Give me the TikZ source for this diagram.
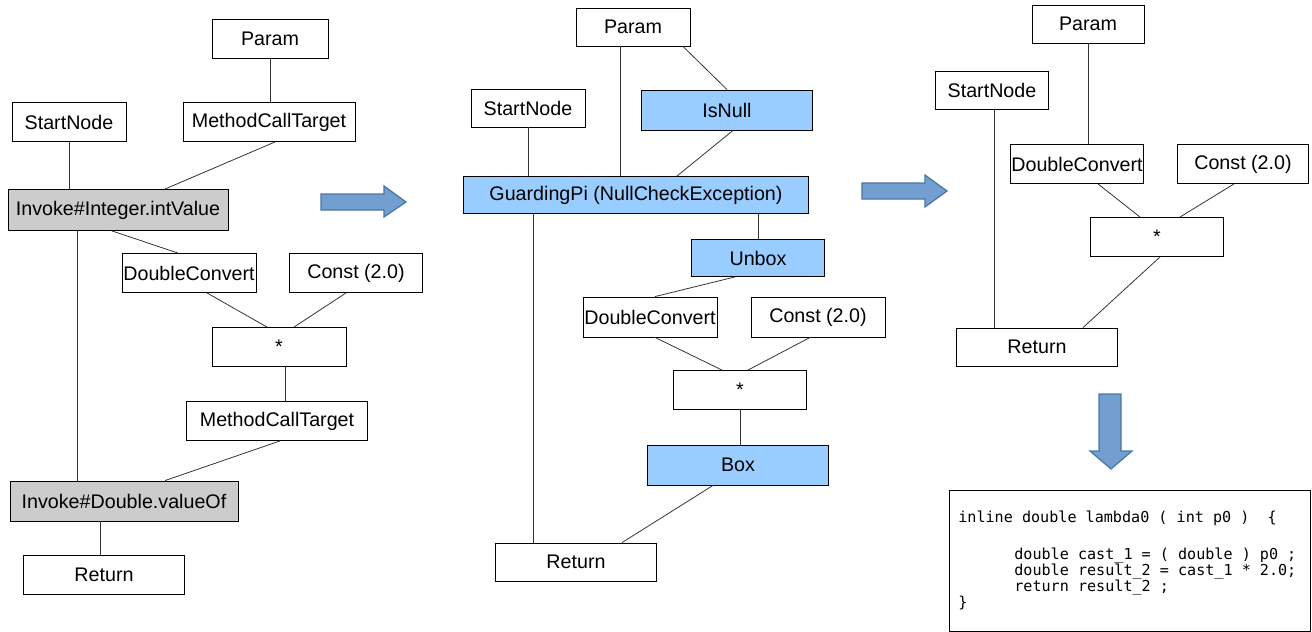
\documentclass[tikz,border=0pt]{standalone}
\usepackage{fontspec}
\setmainfont{Liberation Sans}
\newfontfamily\codefont{DejaVu Sans Mono}
\usetikzlibrary{calc}
\definecolor{nodeblue}{HTML}{99CCFF}
\definecolor{nodegray}{HTML}{CCCCCC}
\definecolor{arrowfill}{HTML}{729FCF}
\definecolor{arrowline}{HTML}{4A76A8}
\begin{document}
\begin{tikzpicture}[x=0.02cm,y=-0.02cm,
    box/.style={draw,fill=white,line width=0.5pt,inner sep=0pt,minimum height=0.78cm,
        font=\fontsize{11.2}{13}\selectfont},
    graybox/.style={box,fill=nodegray},
    bluebox/.style={box,fill=nodeblue},
    edge/.style={line width=0.45pt,black!80},
    bigarrow/.style={fill=arrowfill,draw=arrowline,line width=0.7pt}]
    \useasboundingbox (0,0) rectangle (1312,632);

    % first graph
    \node[box,minimum width=2.32cm] (param1) at (270,39) {Param};
    \node[box,minimum width=3.44cm] (mct1) at (269,122) {MethodCallTarget};
    \node[box,minimum width=2.28cm] (start1) at (69,122) {StartNode};
    \node[graybox,minimum width=4.4cm,minimum height=0.82cm] (inv1) at (118,210) {Invoke\#Integer.intValue};
    \node[box,minimum width=2.68cm] (dc1) at (189,273) {DoubleConvert};
    \node[box,minimum width=2.66cm] (const1) at (356,273) {Const (2.0)};
    \node[box,minimum width=2.68cm] (star1) at (279,347) {*};
    \node[box,minimum width=3.62cm] (mct2) at (277,421) {MethodCallTarget};
    \node[graybox,minimum width=4.56cm,minimum height=0.8cm] (inv2) at (124,501) {Invoke\#Double.valueOf};
    \node[box,minimum width=3.22cm] (ret1) at (104,575) {Return};

    \draw[edge] (param1.south) -- (param1.south |- mct1.north);
    \draw[edge] ($(mct1.south)+(6,0)$) -- ($(inv1.north)+(47,0)$);
    \draw[edge] (start1.south) -- (start1.south |- inv1.north);
    \draw[edge] ($(inv1.south)+(-6,0)$) -- ($(dc1.north)+(-11,0)$);
    \draw[edge] ($(inv1.south)+(-41,0)$) coordinate (a1) -- (a1 |- inv2.north);
    \draw[edge] ($(dc1.south)+(18,0)$) -- ($(star1.north)+(-12,0)$);
    \draw[edge] ($(const1.south)+(-10,0)$) -- ($(star1.north)+(15,0)$);
    \draw[edge] ($(star1.south)+(6,0)$) coordinate (a2) -- (a2 |- mct2.north);
    \draw[edge] ($(mct2.south)+(3,0)$) -- ($(inv2.north)+(41,0)$);
    \draw[edge] ($(inv2.south)+(-24,0)$) coordinate (a3) -- (a3 |- ret1.north);

    \draw[bigarrow] (321,194) -- (384,194) -- (384,186) -- (406,202) -- (384,217)
        -- (384,210) -- (321,210) -- cycle;

    % second graph
    \node[box,minimum width=2.28cm,minimum height=0.76cm] (param2) at (633,27) {Param};
    \node[box,minimum width=2.28cm,minimum height=0.76cm] (start2) at (528,108) {StartNode};
    \node[bluebox,minimum width=3.42cm,minimum height=0.8cm] (isnull) at (727,110) {IsNull};
    \node[bluebox,minimum width=6.9cm,minimum height=0.74cm] (gp) at (636,195) {GuardingPi (NullCheckException)};
    \node[bluebox,minimum width=2.66cm,minimum height=0.74cm] (unbox) at (758,258) {Unbox};
    \node[box,minimum width=2.68cm,minimum height=0.8cm] (dc2) at (650,317) {DoubleConvert};
    \node[box,minimum width=2.68cm,minimum height=0.8cm] (const2) at (818,317) {Const (2.0)};
    \node[box,minimum width=2.66cm] (star2) at (740,390) {*};
    \node[bluebox,minimum width=3.62cm,minimum height=0.8cm] (box2) at (738,465) {Box};
    \node[box,minimum width=3.22cm,minimum height=0.76cm] (ret2) at (576,562) {Return};

    \draw[edge] ($(param2.south)+(-13,0)$) coordinate (b1) -- (b1 |- gp.north);
    \draw[edge] ($(param2.south)+(50,0)$) -- (isnull.north);
    \draw[edge] (start2.south) -- (start2.south |- gp.north);
    \draw[edge] ($(isnull.south)+(6,0)$) -- ($(gp.north)+(41,0)$);
    \draw[edge] (unbox.north |- gp.south) -- (unbox.north);
    \draw[edge] ($(ret2.north)+(-43,0)$) coordinate (b2) -- (b2 |- gp.south);
    \draw[edge] ($(unbox.south)+(-23,0)$) -- ($(dc2.north)+(5,0)$);
    \draw[edge] ($(dc2.south)+(5,0)$) -- ($(star2.north)+(-18,0)$);
    \draw[edge] ($(const2.south)+(-8,0)$) -- ($(star2.north)+(8,0)$);
    \draw[edge] (star2.south) -- (star2.south |- box2.north);
    \draw[edge] ($(box2.south)+(-25,0)$) -- ($(ret2.north)+(46,0)$);

    \draw[bigarrow] (862,183) -- (925,183) -- (925,175) -- (947,191) -- (925,207)
        -- (925,199) -- (862,199) -- cycle;

    % third graph
    \node[box,minimum width=2.24cm,minimum height=0.76cm] (param3) at (1088,24) {Param};
    \node[box,minimum width=2.26cm,minimum height=0.76cm] (start3) at (992,90) {StartNode};
    \node[box,minimum width=2.66cm] (dc3) at (1077,164) {DoubleConvert};
    \node[box,minimum width=2.62cm] (const3) at (1243,164) {Const (2.0)};
    \node[box,minimum width=2.66cm] (star3) at (1157,237) {*};
    \node[box,minimum width=3.22cm,minimum height=0.76cm] (ret3) at (1037,347) {Return};

    \draw[edge] (param3.south) -- (param3.south |- dc3.north);
    \draw[edge] ($(start3.south)+(2,0)$) coordinate (c1) -- (c1 |- ret3.north);
    \draw[edge] ($(dc3.south)+(21,0)$) -- ($(star3.north)+(-17,0)$);
    \draw[edge] ($(const3.south)+(-9,0)$) -- ($(star3.north)+(23,0)$);
    \draw[edge] ($(star3.south)+(3,0)$) -- ($(ret3.north)+(46,0)$);

    \draw[bigarrow] (1099,394) -- (1121,394) -- (1121,451) -- (1132,451) -- (1111,469)
        -- (1090,451) -- (1099,451) -- cycle;

    % generated code
    \node[draw,line width=0.5pt,minimum width=7.22cm,minimum height=2.82cm] (code) at (1129.5,560.5) {};
    \begin{scope}[every node/.style={anchor=base west,inner sep=0pt,font=\codefont\fontsize{8.6}{10}\selectfont}]
        \node (l1) at (958,522) {inline double lambda0 ( int p0 )\ \ \{};
        \node (l2) at (1014,559) {double cast\_1 = ( double ) p0 ;};
        \node (l3) at (1014,575) {double result\_2 = cast\_1 * 2.0;};
        \node (l4) at (1014,591) {return result\_2 ;};
        \node (l5) at (958,607) {\}};
    \end{scope}
\end{tikzpicture}
\end{document}
